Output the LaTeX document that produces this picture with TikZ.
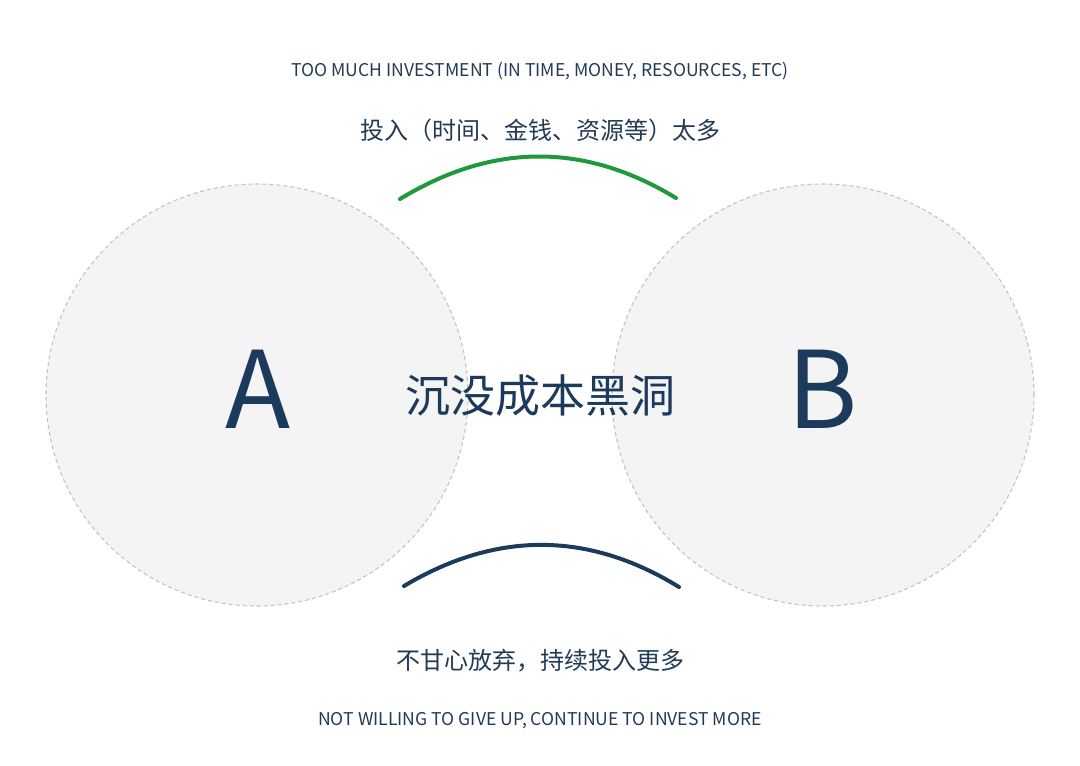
\documentclass[tikz,border=0pt]{standalone}
\usepackage{fontspec}
\setmainfont{Noto Sans CJK SC}
\newfontfamily\cjk{Noto Sans CJK SC}
\definecolor{navy}{HTML}{1B3A5C}
\definecolor{txt}{HTML}{223B55}
\definecolor{grn}{HTML}{1E9A3C}
\definecolor{cfill}{HTML}{F4F4F4}
\definecolor{cline}{HTML}{C4C4C4}
\begin{document}
\begin{tikzpicture}[x=1pt,y=-1pt,
  bigcircle/.style={circle,fill=cfill,draw=cline,dashed,line width=1.1pt,dash pattern=on 4pt off 3pt,minimum size=422pt,inner sep=0pt},
  letter/.style={anchor=base,text=navy,font=\cjk\fontsize{107}{110}\selectfont,inner sep=0pt},
  entext/.style={anchor=base,text=txt,font=\cjk\fontsize{17.6}{20}\selectfont,inner sep=0pt},
  zhtext/.style={anchor=base,text=txt,font=\cjk\fontsize{24}{26}\selectfont,inner sep=0pt},
  arcline/.style={line width=4pt,line cap=round}]
\useasboundingbox[fill=white] (0,0) rectangle (1080,766);
\node[bigcircle] (cA) at (257,395) {};
\node[bigcircle] (cB) at (823,395) {};
\node[letter] (A) at (258,428) {A};
\node[letter] (B) at (823,428) {B};
\node[anchor=base,text=navy,font=\cjk\fontsize{45}{48}\selectfont,inner sep=0pt] (title) at (540,412) {沉没成本黑洞};
\node[entext] (en1) at (540,76) {TOO MUCH INVESTMENT (IN TIME, MONEY, RESOURCES, ETC)};
\node[zhtext] (zh1) at (540,139) {投入（时间、金钱、资源等）太多};
\node[zhtext] (zh2) at (540,669) {不甘心放弃，持续投入更多};
\node[entext] (en2) at (540,725) {NOT WILLING TO GIVE UP, CONTINUE TO INVEST MORE};
\coordinate (g1) at (400,199);
\coordinate (g2) at (676,198);
\coordinate (n1) at (404,586);
\coordinate (n2) at (679,587);
\draw[arcline,grn] (g1) .. controls (492,143) and (584,142) .. (g2);
\draw[arcline,navy] (n1) .. controls (496,531) and (588,531) .. (n2);
\end{tikzpicture}
\end{document}
